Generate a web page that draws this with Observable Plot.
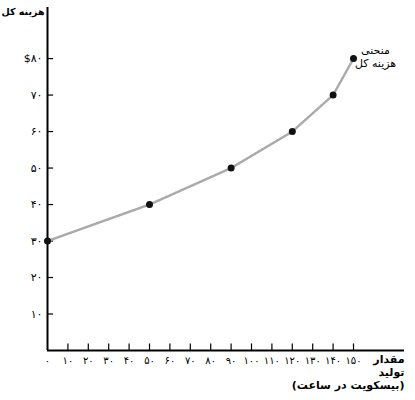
<!DOCTYPE html>
<html>
<head>
<meta charset="utf-8">
<script src="https://cdn.jsdelivr.net/npm/d3@7"></script>
<script src="https://cdn.jsdelivr.net/npm/@observablehq/plot@0.6"></script>
<style>
  body { margin: 0; background: #fff; }
  #chart svg { display: block; }
</style>
</head>
<body>
<div id="chart"></div>
<script>
// Data
const quantity = [0, 50, 90, 120, 140, 150];
const totalCost = [30, 40, 50, 60, 70, 80];
const xTicks = [0, 10, 20, 30, 40, 50, 60, 70, 80, 90, 100, 110, 120, 130, 140, 150];
const yTicks = [10, 20, 30, 40, 50, 60, 70, 80];
const yTitle = "هزینه کل";
const xTitle = "مقدار\nتولید\n(بیسکویت در ساعت)";
const curveLabel = "منحنی\nهزینه کل";

const fa = d => String(d).replace(/\d/g, c => "۰۱۲۳۴۵۶۷۸۹"[c]);
const rows = quantity.map((q, i) => ({q, c: totalCost[i]}));

const chart = Plot.plot({
  width: 415,
  height: 400,
  marginLeft: 47,
  marginRight: 11,
  marginTop: 7,
  marginBottom: 50,
  style: {fontFamily: "DejaVu Sans", background: "#fff", color: "#000"},
  x: {domain: [0, 175]},
  y: {domain: [0, 94]},
  marks: [
    Plot.axisX(xTicks, {tickSize: 0, tickPadding: 6, tickFormat: fa, fontSize: 10, label: null}),
    Plot.axisY(yTicks, {tickSize: 0, tickPadding: 5, fontSize: 11, label: null,
      tickFormat: d => (d === 80 ? "$" : "") + fa(d)}),
    Plot.ruleX(xTicks.filter(d => d > 0), {y1: 0, y2: 1.8, stroke: "#000", strokeWidth: 1.2}),
    Plot.ruleY(yTicks, {x1: 0, x2: 3, stroke: "#000", strokeWidth: 1.2}),
    Plot.ruleY([0], {stroke: "#000", strokeWidth: 2}),
    Plot.ruleX([0], {stroke: "#000", strokeWidth: 2}),
    Plot.line(rows, {x: "q", y: "c", stroke: "#aaa", strokeWidth: 2.5, strokeDasharray: "1,1.2"}),
    Plot.dot(rows, {x: "q", y: "c", r: 3.5, fill: "#111", stroke: "none"}),
    Plot.text([yTitle], {frameAnchor: "top-left", textAnchor: "start", lineAnchor: "top", dx: -46, dy: 1, fontSize: 9.5, fontWeight: "bold"}),
    Plot.text([curveLabel], {x: [150], y: [80], textAnchor: "middle", lineAnchor: "middle", dx: 22, dy: -2, fontSize: 11, lineHeight: 1.15}),
    Plot.text([xTitle], {frameAnchor: "bottom-right", textAnchor: "end", lineAnchor: "top", dy: 4, fontSize: 11, fontWeight: "bold", lineHeight: 1.15})
  ]
});
document.getElementById("chart").append(chart);
</script>
</body>
</html>
